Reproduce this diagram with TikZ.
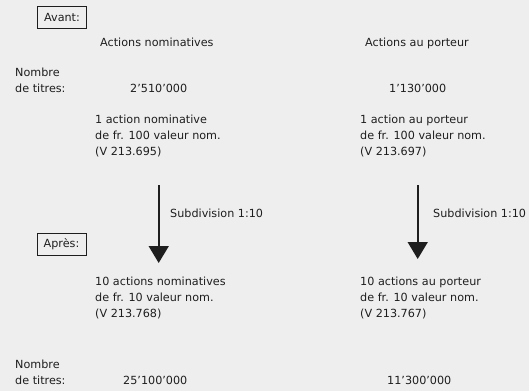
\documentclass[tikz,border=0pt]{standalone}
\usepackage{fontspec}
\setmainfont{DejaVu Sans}
\usetikzlibrary{arrows.meta}
\definecolor{scan-paper}{HTML}{EEEEEE}
\definecolor{scan-ink}{HTML}{1E1E1E}

\begin{document}
\begin{tikzpicture}[x=1pt,y=-1pt,
  txt/.style={anchor=base west,inner sep=0pt,text=scan-ink,font=\fontsize{11.2}{16}\selectfont},
  blk/.style={txt,anchor=north west,align=left},
  tag/.style={txt,anchor=center,draw=scan-ink,line width=0.9pt,minimum width=49pt,minimum height=22pt},
  subdiv/.style={draw=scan-ink,line width=1.6pt,-{Triangle[length=17pt,width=20pt]}}]

  % Paper
  \fill[scan-paper] (0,0) rectangle (529,391);

  % Before
  \node[tag] (avant) at (62,17) {Avant:};
  \node[txt] (nomhead) at (100,46) {Actions nominatives};
  \node[txt] (porthead) at (365,46) {Actions au porteur};
  \node[txt] (nbavant) at (15,76) {Nombre};
  \node[txt] (titavant) at (15,92) {de titres:};
  \node[txt] (nomnbavant) at (130,92) {2'510'000};
  \node[txt] (portnbavant) at (389,92) {1'130'000};
  \node[blk] (nomavant) at (95,115) {1 action nominative\\de fr. 100 valeur nom.\\(V 213.695)};
  \node[blk] (portavant) at (360,115) {1 action au porteur\\de fr. 100 valeur nom.\\(V 213.697)};

  % After
  \node[tag] (apres) at (61.5,244.5) {Après:};
  \node[blk] (nomapres) at (95,277) {10 actions nominatives\\de fr. 10 valeur nom.\\(V 213.768)};
  \node[blk] (portapres) at (360,277) {10 actions au porteur\\de fr. 10 valeur nom.\\(V 213.767)};
  \node[txt] (nbapres) at (15,368) {Nombre};
  \node[txt] (titapres) at (15,384) {de titres:};
  \node[txt] (nomnbapres) at (123,384) {25'100'000};
  \node[txt] (portnbapres) at (387,384) {11'300'000};

  % Subdivision arrows
  \draw[subdiv,shorten <=28pt,shorten >=14pt] (nomnbavant.south |- nomavant.south) -- (nomnbavant.south |- nomapres.north);
  \draw[subdiv,shorten <=28pt,shorten >=18pt] (portnbavant.south |- portavant.south) -- (portnbavant.south |- portapres.north);
  \node[txt] (nomsubdiv) at (170,217) {Subdivision 1:10};
  \node[txt] (portsubdiv) at (433,217) {Subdivision 1:10};

\end{tikzpicture}
\end{document}
